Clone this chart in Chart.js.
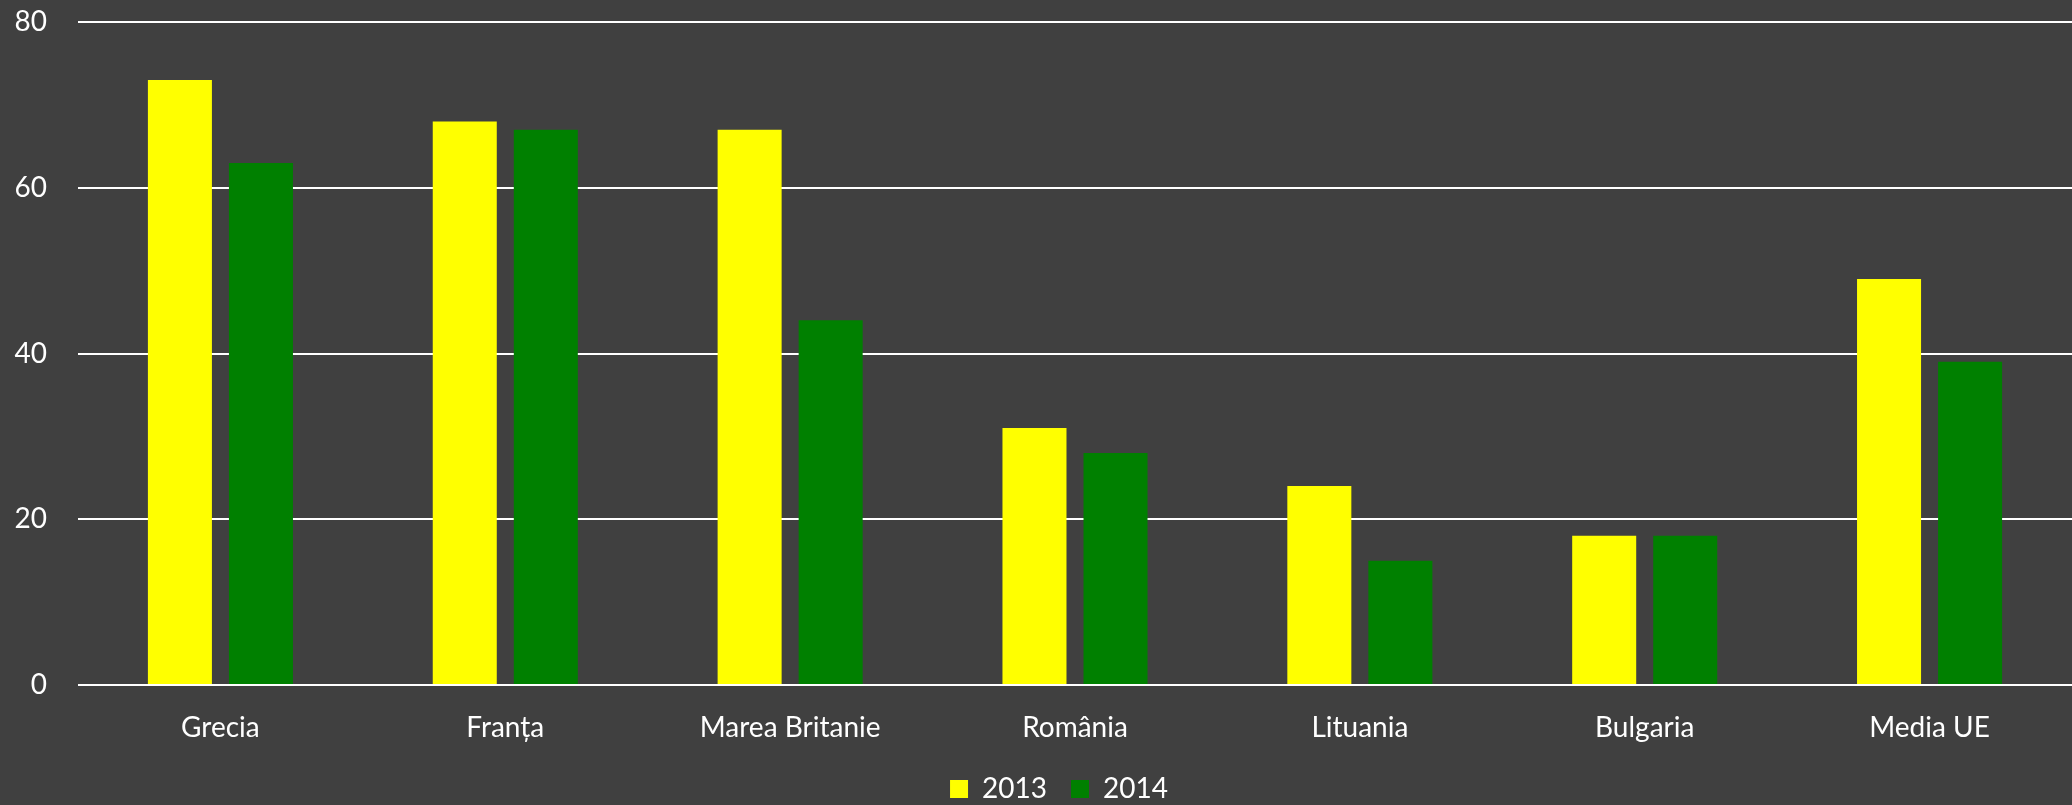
<!DOCTYPE html>
<html>
<head>
<meta charset="utf-8">
<script src="https://cdn.jsdelivr.net/npm/chart.js@4"></script>
<style>
  body { margin: 0; background: #404040; }
  #wrap { width: 2072px; height: 805px; }
</style>
</head>
<body>
<div id="wrap"><canvas id="myBarChart"></canvas></div>
<script>
const countries = ["Grecia", "Franța", "Marea Britanie", "România", "Lituania", "Bulgaria", "Media UE"];
const values2013 = [73, 68, 67, 31, 24, 18, 49];
const values2014 = [63, 67, 44, 28, 15, 18, 39];
const yTicks = [0, 20, 40, 60, 80];

document.addEventListener("DOMContentLoaded", function () {
    const ctx = document.getElementById("myBarChart").getContext("2d");
    const font = { family: "Lato", size: 28 };

    // nudge legend to the right like in the original
    const shiftLegend = {
        id: "shiftLegend",
        afterLayout(chart) {
            chart.legend.left += 23;
            chart.legend.right += 23;
        },
    };

    myBarChart = new Chart(ctx, {
        type: "bar",
        data: {
            labels: countries,
            datasets: [
                {
                    label: "2013",
                    data: values2013,
                    backgroundColor: "#FFFF00",
                    borderWidth: 0,
                    categoryPercentage: 0.569,
                    barPercentage: 0.79,
                },
                {
                    label: "2014",
                    data: values2014,
                    backgroundColor: "#008000",
                    borderWidth: 0,
                    categoryPercentage: 0.569,
                    barPercentage: 0.79,
                },
            ],
        },
        options: {
            responsive: true,
            maintainAspectRatio: false,
            animation: false,
            layout: { padding: { top: 22, right: 0, left: 0, bottom: -8 } },
            scales: {
                y: {
                    min: 0,
                    max: 80,
                    afterBuildTicks: (s) => { s.ticks = yTicks.map((v) => ({ value: v })); },
                    afterFit: (s) => { s.width = 78; s.paddingTop = 0; s.paddingBottom = 0; },
                    grid: { color: "#FFFFFF", lineWidth: 2, drawTicks: false },
                    border: { display: false },
                    ticks: { color: "#FFFFFF", font: font, padding: 31 },
                },
                x: {
                    afterFit: (s) => { s.height = 66; },
                    grid: { display: false, drawTicks: false },
                    border: { display: false },
                    ticks: { color: "#FFFFFF", font: font, padding: 26 },
                },
            },
            plugins: {
                legend: {
                    position: "bottom",
                    labels: {
                        color: "#FFFFFF",
                        font: font,
                        boxWidth: 18,
                        boxHeight: 18,
                        padding: 24,
                    },
                },
                tooltip: { enabled: false },
            },
        },
        plugins: [shiftLegend],
    });
});
</script>
</body>
</html>
